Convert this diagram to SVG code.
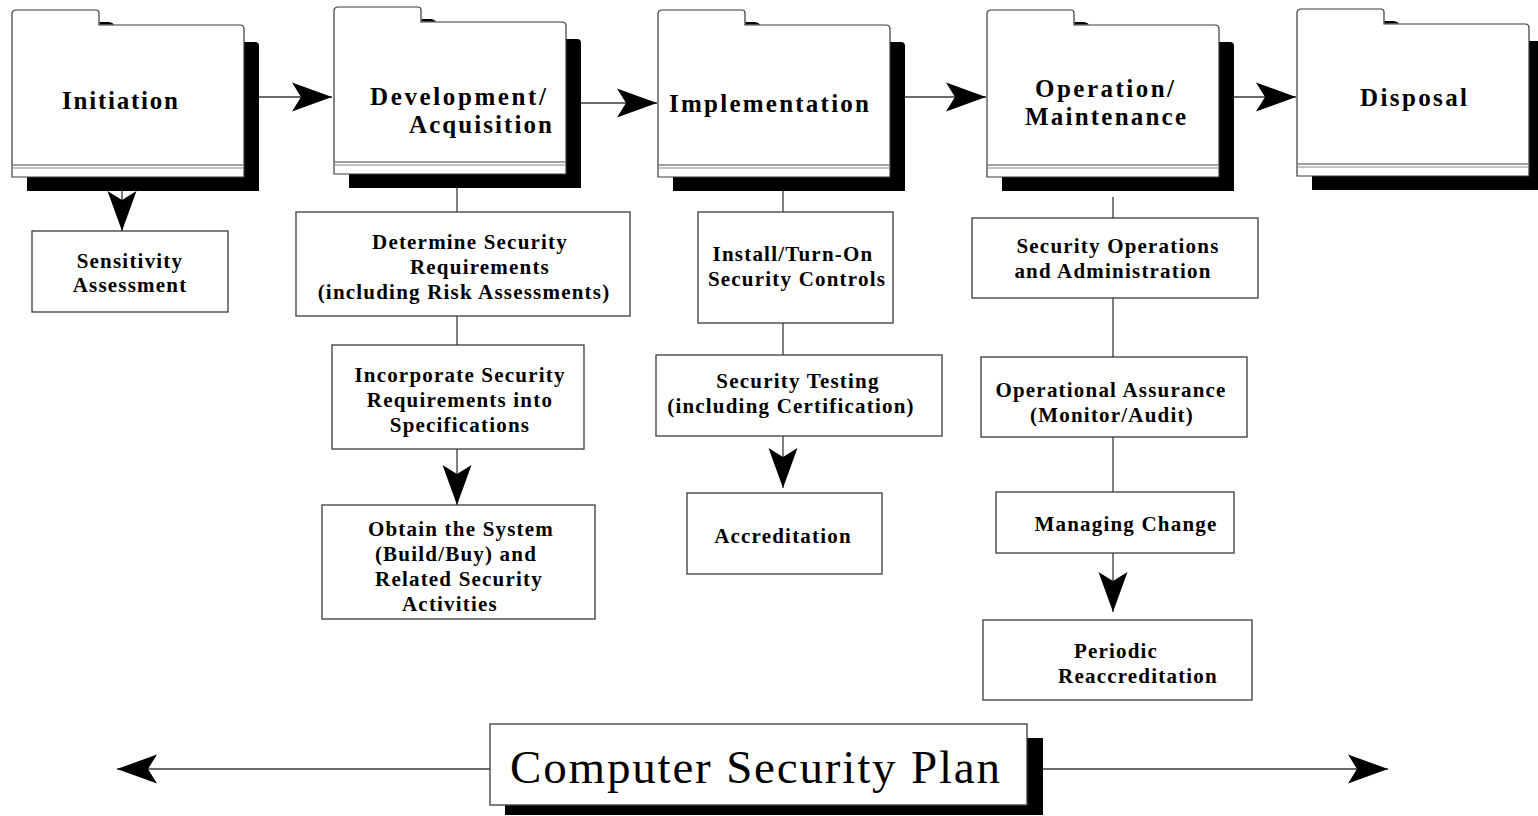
<svg xmlns="http://www.w3.org/2000/svg" xmlns:xlink="http://www.w3.org/1999/xlink" width="1538" height="816" viewBox="0 0 1538 816">
<style>
.bg{fill:#ffffff}
.box{fill:#ffffff;stroke:#3a3a3a;stroke-width:1.3}
.shadow{fill:#000000}
.t{font-family:"Liberation Serif","Times New Roman",serif;font-weight:bold;font-size:21px;letter-spacing:1.2px;fill:#000;text-anchor:middle}
.title{font-family:"Liberation Serif","Times New Roman",serif;font-weight:bold;font-size:25px;fill:#000}
.plan{font-family:"Liberation Serif","Times New Roman",serif;font-size:47px;fill:#000}
.conn{stroke:#3a3a3a;stroke-width:1.3;fill:none}
.fl{stroke:#3a3a3a;stroke-width:1.2;fill:#fff}
.dl1{stroke:#444;stroke-width:1.2}
.dl2{stroke:#8a8a8a;stroke-width:1.2}
</style>
<defs>
<marker id="arr" markerUnits="userSpaceOnUse" markerWidth="42" markerHeight="32" viewBox="0 0 42 32" refX="40" refY="16" orient="auto-start-reverse">
<path d="M0,1.5 L40,16 L0,30.5 L9,16 Z" fill="#000"/>
</marker>
<g id="folder">
<path class="shadow" d="M15,32 L243,32 Q247,32 247,36 L247,181 L15,181 Z"/>
<path class="fl" d="M0,167 L0,4 Q0,0 4,0 L84,0 Q87,0 87,3 L87,15 L228,15 Q232,15 232,19 L232,167 Z"/>
<path class="shadow" d="M87.6,12 L97,12 Q101,13 102,14.4 L87.6,14.4 Z"/>
<line class="dl1" x1="0.6" y1="155" x2="231.4" y2="155"/>
<line class="dl2" x1="0.6" y1="158" x2="231.4" y2="158"/>
</g>
</defs>
<rect class="bg" x="0" y="0" width="1538" height="816"/>

<g id="connectors">
<line class="conn" x1="259" y1="97" x2="332" y2="97" marker-end="url(#arr)"/>
<line class="conn" x1="581" y1="103" x2="657" y2="103" marker-end="url(#arr)"/>
<line class="conn" x1="905" y1="97" x2="986" y2="97" marker-end="url(#arr)"/>
<line class="conn" x1="1234" y1="97" x2="1296" y2="97" marker-end="url(#arr)"/>
<line class="conn" x1="122" y1="191" x2="122" y2="231" marker-end="url(#arr)"/>
<line class="conn" x1="457" y1="188" x2="457" y2="212"/>
<line class="conn" x1="457" y1="316" x2="457" y2="345"/>
<line class="conn" x1="457" y1="449" x2="457" y2="505" marker-end="url(#arr)"/>
<line class="conn" x1="783" y1="191" x2="783" y2="212"/>
<line class="conn" x1="783" y1="323" x2="783" y2="355"/>
<line class="conn" x1="783" y1="436" x2="783" y2="488" marker-end="url(#arr)"/>
<line class="conn" x1="1113" y1="197" x2="1113" y2="218"/>
<line class="conn" x1="1113" y1="298" x2="1113" y2="357"/>
<line class="conn" x1="1113" y1="437" x2="1113" y2="492"/>
<line class="conn" x1="1113" y1="553" x2="1113" y2="612" marker-end="url(#arr)"/>
<line class="conn" x1="117" y1="769" x2="490" y2="769" marker-start="url(#arr)"/>
<line class="conn" x1="1027" y1="769" x2="1388" y2="769" marker-end="url(#arr)"/>
</g>

<g id="initiation">
<use xlink:href="#folder" href="#folder" transform="translate(12,10)"/>
<text class="title" x="62" y="109" textLength="116" lengthAdjust="spacing">Initiation</text>
</g>
<g id="development">
<use xlink:href="#folder" href="#folder" transform="translate(334,7)"/>
<text class="title" x="370" y="105" textLength="176" lengthAdjust="spacing">Development/</text>
<text class="title" x="409" y="133" textLength="143" lengthAdjust="spacing">Acquisition</text>
</g>
<g id="implementation">
<use xlink:href="#folder" href="#folder" transform="translate(658,10)"/>
<text class="title" x="669" y="112" textLength="200" lengthAdjust="spacing">Implementation</text>
</g>
<g id="operation">
<use xlink:href="#folder" href="#folder" transform="translate(987,10)"/>
<text class="title" x="1035" y="97" textLength="139" lengthAdjust="spacing">Operation/</text>
<text class="title" x="1025" y="125" textLength="161" lengthAdjust="spacing">Maintenance</text>
</g>
<g id="disposal">
<use xlink:href="#folder" href="#folder" transform="translate(1297,9)"/>
<text class="title" x="1360" y="106" textLength="107" lengthAdjust="spacing">Disposal</text>
</g>

<g id="sensitivity">
<rect class="box" x="32" y="231" width="196" height="81"/>
<text class="t" x="130" y="268">Sensitivity</text>
<text class="t" x="130" y="292">Assessment</text>
</g>
<g id="determine">
<rect class="box" x="296" y="212" width="334" height="104"/>
<text class="t" x="470" y="249">Determine Security</text>
<text class="t" x="480" y="274">Requirements</text>
<text class="t" x="464" y="299">(including Risk Assessments)</text>
</g>
<g id="incorporate">
<rect class="box" x="332" y="345" width="252" height="104"/>
<text class="t" x="460" y="382">Incorporate Security</text>
<text class="t" x="460" y="407">Requirements into</text>
<text class="t" x="460" y="432">Specifications</text>
</g>
<g id="obtain">
<rect class="box" x="322" y="505" width="273" height="114"/>
<text class="t" x="461" y="536">Obtain the System</text>
<text class="t" x="456" y="561">(Build/Buy) and</text>
<text class="t" x="459" y="586">Related Security</text>
<text class="t" x="450" y="611">Activities</text>
</g>
<g id="install">
<rect class="box" x="698" y="212" width="195" height="111"/>
<text class="t" x="793" y="261">Install/Turn-On</text>
<text class="t" x="797" y="286">Security Controls</text>
</g>
<g id="testing">
<rect class="box" x="656" y="355" width="286" height="81"/>
<text class="t" x="798" y="388">Security Testing</text>
<text class="t" x="791" y="413">(including Certification)</text>
</g>
<g id="accreditation">
<rect class="box" x="687" y="493" width="195" height="81"/>
<text class="t" x="783" y="543">Accreditation</text>
</g>
<g id="secops">
<rect class="box" x="972" y="218" width="286" height="80"/>
<text class="t" x="1118" y="253">Security Operations</text>
<text class="t" x="1113" y="278">and Administration</text>
</g>
<g id="assurance">
<rect class="box" x="981" y="357" width="266" height="80"/>
<text class="t" x="1111" y="397">Operational Assurance</text>
<text class="t" x="1112" y="422">(Monitor/Audit)</text>
</g>
<g id="managing">
<rect class="box" x="996" y="492" width="238" height="61"/>
<text class="t" x="1126" y="531">Managing Change</text>
</g>
<g id="periodic">
<rect class="box" x="983" y="620" width="269" height="80"/>
<text class="t" x="1116" y="658">Periodic</text>
<text class="t" x="1138" y="683">Reaccreditation</text>
</g>
<g id="plan">
<rect class="shadow" x="505" y="738" width="538" height="77"/>
<rect class="box" x="490" y="724" width="537" height="81"/>
<text class="plan" x="510" y="783" textLength="490" lengthAdjust="spacing">Computer Security Plan</text>
</g>
</svg>
